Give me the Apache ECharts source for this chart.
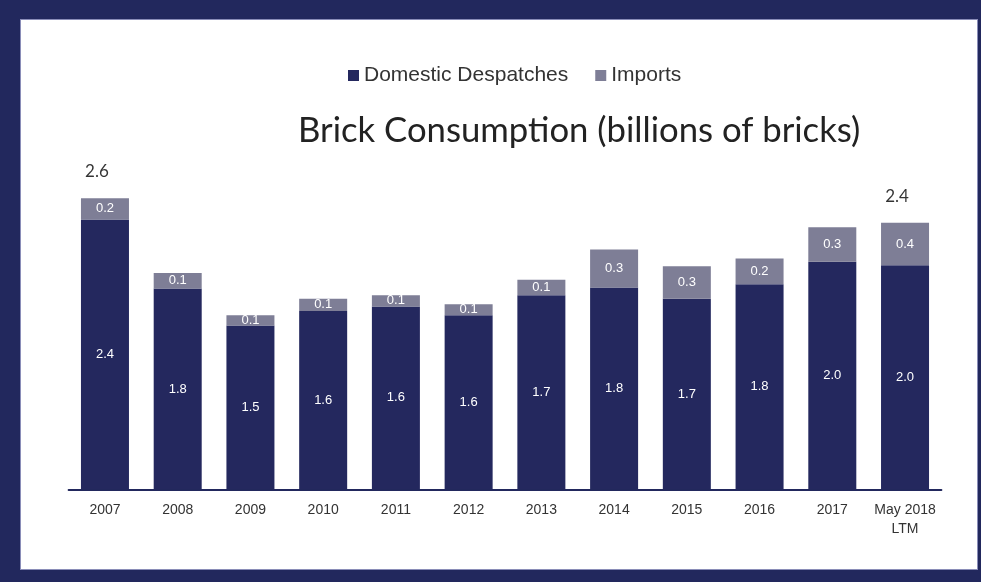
<!DOCTYPE html>
<html>
<head>
<meta charset="utf-8">
<script src="https://cdn.jsdelivr.net/npm/echarts@6/dist/echarts.min.js"></script>
<style>
html,body{margin:0;padding:0;background:#22285d;}
#frame{position:absolute;left:20px;top:19px;width:956px;height:549px;background:#fff;border:1px solid #8a8db8;}
#chart{position:absolute;left:0;top:0;width:981px;height:582px;}
</style>
</head>
<body>
<div id="frame"></div>
<div id="chart"></div>
<script>
const categories = ['2007','2008','2009','2010','2011','2012','2013','2014','2015','2016','2017','May 2018\nLTM'];
const domestic = [2.42, 1.80, 1.47, 1.60, 1.64, 1.56, 1.74, 1.81, 1.71, 1.84, 2.04, 2.01];
const imports = [0.19, 0.14, 0.09, 0.11, 0.10, 0.10, 0.14, 0.34, 0.29, 0.23, 0.31, 0.38];
const totalLabels = ['2.6', '-', '-', '-', '-', '-', '-', '-', '-', '-', '-', '2.4'];

const totals = domestic.map((d, i) => totalLabels[i] === '-' ? '-' : d + imports[i]);

const chart = echarts.init(document.getElementById('chart'), null, {renderer: 'canvas'});
chart.setOption({
  animation: false,
  backgroundColor: 'transparent',
  title: {
    text: 'Brick Consumption (billions of bricks)',
    left: 293, top: 108,
    textStyle: {fontFamily: 'Lato', fontSize: 34.7, fontWeight: 'normal', color: '#222'}
  },
  legend: {
    top: 60, left: 343,
    itemWidth: 11, itemHeight: 11, itemGap: 27,
    icon: 'rect',
    textStyle: {fontFamily: 'Liberation Sans, Arial', fontSize: 21, color: '#333'},
    data: ['Domestic Despatches', 'Imports']
  },
  grid: {left: 68.6, right: 39.6, top: 154.8, bottom: 92.7},
  xAxis: {
    type: 'category', data: categories,
    axisLine: {lineStyle: {color: '#22285d', width: 2}},
    axisTick: {show: false},
    axisLabel: {fontFamily: 'Liberation Sans, Arial', fontSize: 14, color: '#333', margin: 11, lineHeight: 19, interval: 0}
  },
  yAxis: {type: 'value', min: 0, max: 3, show: false, splitLine: {show: false}},
  series: [
    {
      name: 'Domestic Despatches', type: 'bar', stack: 'a', barWidth: '66%',
      data: domestic,
      itemStyle: {color: '#24285e'},
      label: {show: true, position: 'inside', color: '#fff', fontFamily: 'Liberation Sans, Arial', fontSize: 13,
        formatter: p => p.value.toFixed(1)}
    },
    {
      name: 'Imports', type: 'bar', stack: 'a', barWidth: '66%',
      data: imports,
      itemStyle: {color: '#7e7e96'},
      label: {show: true, position: 'inside', color: '#fff', fontFamily: 'Liberation Sans, Arial', fontSize: 13,
        formatter: p => p.value.toFixed(1)}
    },
    {
      name: 'Total', type: 'scatter', symbolSize: 0,
      data: totals,
      label: {show: true, position: 'top', distance: 18, offset: [-8, 0], color: '#000', fontFamily: 'Lato', fontSize: 17,
        formatter: p => p.value.toFixed(1)},
      silent: true
    }
  ]
});
</script>
</body>
</html>
